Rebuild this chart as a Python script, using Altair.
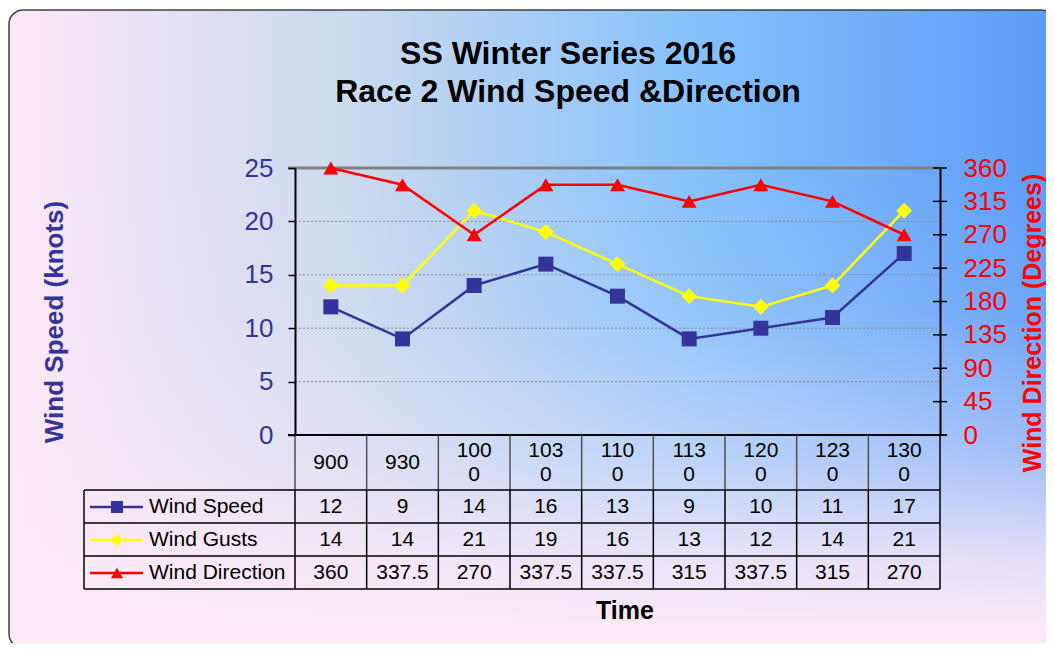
import altair as alt
import pandas as pd

# ---- data ----
times = ["900", "930", "1000", "1030", "1100", "1130", "1200", "1230", "1300"]
wind_speed = [12, 9, 14, 16, 13, 9, 10, 11, 17]
wind_gusts = [14, 14, 21, 19, 16, 13, 12, 14, 21]
wind_direction = [360, 337.5, 270, 337.5, 337.5, 315, 337.5, 315, 270]
speed_ticks = [0, 5, 10, 15, 20, 25]
direction_ticks = [0, 45, 90, 135, 180, 225, 270, 315, 360]
series_names = ["Wind Speed", "Wind Gusts", "Wind Direction"]
title_lines = ["SS Winter Series 2016", "Race 2 Wind Speed &Direction"]

# ---- style / layout ----
FONT = "Liberation Sans"
W, H = 645, 267
BLUE, YEL, RED = "#333399", "#ffff00", "#ff0000"
ROW_Y = [339, 372, 405]          # table row centres (relative to plot)
ROW_LINES = [322, 355, 388, 421]  # table horizontal lines
HEADER_Y1 = 295                   # single-line header label
HEADER_Y2 = 283                   # first line of wrapped header label
LEG_LEFT = -211


def wrap(t):
    return t if len(t) <= 3 else t[:3] + "\n" + t[3:]


df = pd.DataFrame({
    "t": times,
    "label": [wrap(t) for t in times],
    "speed": wind_speed,
    "gust": wind_gusts,
    "dir": wind_direction,
    "speed_s": [f"{v:g}" for v in wind_speed],
    "gust_s": [f"{v:g}" for v in wind_gusts],
    "dir_s": [f"{v:g}" for v in wind_direction],
})
one = pd.DataFrame({"k": [0]})

xscale = alt.Scale(type="band", paddingInner=0, paddingOuter=0)


def X(**kw):
    return alt.X("t:N", sort=times, scale=xscale, axis=None, **kw)


sp_scale = alt.Scale(domain=[0, 25], nice=False)
sp_axis = alt.Axis(values=speed_ticks, orient="left", title=None, labelColor=BLUE,
                   labelFontSize=26, labelFont=FONT, tickColor="black", tickSize=7,
                   tickWidth=1.5, domainColor="black", domainWidth=2, labelPadding=15,
                   grid=False, zindex=1)
dir_scale = alt.Scale(domain=[0, 360], nice=False)
dir_axis = alt.Axis(values=direction_ticks, orient="right", title=None, labelColor=RED,
                    labelFontSize=26, labelFont=FONT, ticks=False, domainColor="black",
                    domainWidth=2, labelPadding=23, grid=False, zindex=1)

base1 = alt.Chart(one)

# background
bg = base1.mark_rect(
    cornerRadius=14, stroke="#404040", strokeWidth=1.5,
    fill=alt.Gradient(gradient="linear", x1=0, x2=1, y1=0, y2=0, stops=[
        alt.GradientStop(color="#fde8f7", offset=0),
        alt.GradientStop(color="#cad9ee", offset=0.33),
        alt.GradientStop(color="#85c1fc", offset=0.66),
        alt.GradientStop(color="#5b9bf7", offset=1),
    ])
).encode(x=alt.value(-286), x2=alt.value(760), y=alt.value(-158), y2=alt.value(480))

bg2 = base1.mark_rect(
    cornerRadius=14,
    fill=alt.Gradient(gradient="linear", x1=0, x2=0, y1=0, y2=1, stops=[
        alt.GradientStop(color="rgba(251,233,247,0)", offset=0),
        alt.GradientStop(color="rgba(251,233,247,0)", offset=0.25),
        alt.GradientStop(color="rgba(251,233,247,0.12)", offset=0.48),
        alt.GradientStop(color="rgba(251,233,247,0.45)", offset=0.7),
        alt.GradientStop(color="rgba(251,233,247,0.85)", offset=0.86),
        alt.GradientStop(color="rgba(251,233,247,1)", offset=0.97),
    ])
).encode(x=alt.value(-285), x2=alt.value(760), y=alt.value(-157), y2=alt.value(479))

# gridlines
grid = alt.Chart(pd.DataFrame({"v": speed_ticks[1:-1]})).mark_rule(
    color="#8a8a8a", strokeDash=[2, 2], strokeWidth=1
).encode(y=alt.Y("v:Q", scale=sp_scale, axis=sp_axis), x=alt.value(0), x2=alt.value(W))

top_line = base1.mark_rule(color="#808080", strokeWidth=3).encode(
    x=alt.value(-7), x2=alt.value(W), y=alt.value(0))
bottom_line = base1.mark_rule(color="black", strokeWidth=2).encode(
    x=alt.value(-7), x2=alt.value(W + 7), y=alt.value(H))

# series
sp_line = alt.Chart(df).mark_line(color=BLUE, strokeWidth=2.5).encode(
    x=X(), y=alt.Y("speed:Q", scale=sp_scale, axis=sp_axis))
sp_pts = alt.Chart(df).mark_point(shape="square", filled=True, size=225, color=BLUE, opacity=1).encode(
    x=X(), y=alt.Y("speed:Q", scale=sp_scale, axis=sp_axis))
gu_line = alt.Chart(df).mark_line(color=YEL, strokeWidth=2.5).encode(
    x=X(), y=alt.Y("gust:Q", scale=sp_scale, axis=sp_axis))
gu_pts = alt.Chart(df).mark_point(shape="diamond", filled=True, size=250, color=YEL, opacity=1).encode(
    x=X(), y=alt.Y("gust:Q", scale=sp_scale, axis=sp_axis))

# table grid
hdr_v = alt.Chart(df).mark_rule(color="#505050", strokeWidth=1.5).encode(
    x=X(bandPosition=0), y=alt.value(H), y2=alt.value(ROW_LINES[0]))
body_v = alt.Chart(df).mark_rule(color="black", strokeWidth=1.5).encode(
    x=X(bandPosition=0), y=alt.value(ROW_LINES[0]), y2=alt.value(ROW_LINES[-1]))
end_v = base1.mark_rule(color="black", strokeWidth=1.5).encode(
    x=alt.value(W), y=alt.value(H), y2=alt.value(ROW_LINES[-1]))
leg_v = base1.mark_rule(color="black", strokeWidth=1.5).encode(
    x=alt.value(LEG_LEFT), y=alt.value(ROW_LINES[0]), y2=alt.value(ROW_LINES[-1]))
h_lines = [base1.mark_rule(color="black", strokeWidth=1.5).encode(
    x=alt.value(LEG_LEFT), x2=alt.value(W), y=alt.value(yy)) for yy in ROW_LINES]

txt = dict(font=FONT, fontSize=21, color="black", baseline="middle", align="center")
hdr_txt1 = alt.Chart(df).transform_filter("length(datum.t) <= 3").mark_text(**txt).encode(
    x=X(), y=alt.value(HEADER_Y1), text="label:N")
hdr_txt2 = alt.Chart(df).transform_filter("length(datum.t) > 3").mark_text(
    lineBreak="\n", lineHeight=24, **txt).encode(
    x=X(), y=alt.value(HEADER_Y2), text="label:N")
row_txt = [
    alt.Chart(df).mark_text(**txt).encode(x=X(), y=alt.value(ROW_Y[0]), text="speed_s:N"),
    alt.Chart(df).mark_text(**txt).encode(x=X(), y=alt.value(ROW_Y[1]), text="gust_s:N"),
    alt.Chart(df).mark_text(**txt).encode(x=X(), y=alt.value(ROW_Y[2]), text="dir_s:N"),
]

# legend column
leg = []
for name, col, shape, sz, yy in zip(series_names, [BLUE, YEL, RED],
                                    ["square", "diamond", "triangle-up"],
                                    [144, 160, 150], ROW_Y):
    leg.append(base1.mark_rule(color=col, strokeWidth=2.5).encode(
        x=alt.value(-205), x2=alt.value(-152), y=alt.value(yy)))
    leg.append(base1.mark_point(shape=shape, filled=True, size=sz, color=col, opacity=1).encode(
        x=alt.value(-178), y=alt.value(yy)))
    leg.append(base1.mark_text(text=name, font=FONT, fontSize=21, color="black",
                               align="left", baseline="middle").encode(
        x=alt.value(-146), y=alt.value(yy)))

# titles
titles = [
    base1.mark_text(text=title_lines[0], font=FONT, fontSize=32, fontWeight="bold",
                    color="black", align="center", baseline="middle").encode(
        x=alt.value(273), y=alt.value(-114)),
    base1.mark_text(text=title_lines[1], font=FONT, fontSize=32, fontWeight="bold",
                    color="black", align="center", baseline="middle").encode(
        x=alt.value(273), y=alt.value(-76)),
    base1.mark_text(text="Wind Speed (knots)", font=FONT, fontSize=26, fontWeight="bold",
                    color=BLUE, align="center", baseline="middle", angle=270).encode(
        x=alt.value(-240), y=alt.value(154)),
    base1.mark_text(text="Wind Direction (Degrees)", font=FONT, fontSize=25, fontWeight="bold",
                    color=RED, align="center", baseline="middle", angle=270).encode(
        x=alt.value(738), y=alt.value(155)),
    base1.mark_text(text="Time", font=FONT, fontSize=25, fontWeight="bold",
                    color="black", align="center", baseline="middle").encode(
        x=alt.value(330), y=alt.value(443)),
]

left = alt.layer(bg, bg2, grid, top_line, bottom_line, hdr_v, body_v, end_v, leg_v,
                 *h_lines, hdr_txt1, hdr_txt2, *row_txt, *leg, *titles,
                 gu_line, gu_pts, sp_line, sp_pts)

# direction (right axis)
dir_ticks = alt.Chart(pd.DataFrame({"dir": direction_ticks})).mark_rule(
    color="black", strokeWidth=1.5).encode(
    y=alt.Y("dir:Q", scale=dir_scale, axis=dir_axis), x=alt.value(W - 7), x2=alt.value(W + 7))
dir_line = alt.Chart(df).mark_line(color=RED, strokeWidth=2.5).encode(
    x=X(), y=alt.Y("dir:Q", scale=dir_scale, axis=dir_axis))
dir_pts = alt.Chart(df).mark_point(shape="triangle-up", filled=True, size=225, color=RED, opacity=1).encode(
    x=X(), y=alt.Y("dir:Q", scale=dir_scale, axis=dir_axis))
right = alt.layer(dir_ticks, dir_line, dir_pts)

chart = alt.layer(left, right).resolve_scale(y="independent").properties(
    width=W, height=H,
    padding={"left": 287, "top": 160, "right": 106, "bottom": 208},
    autosize=alt.AutoSizeParams(type="none"),
).configure_view(stroke=None)

chart.save("out.html", embed_options={"renderer": "svg", "actions": False})
